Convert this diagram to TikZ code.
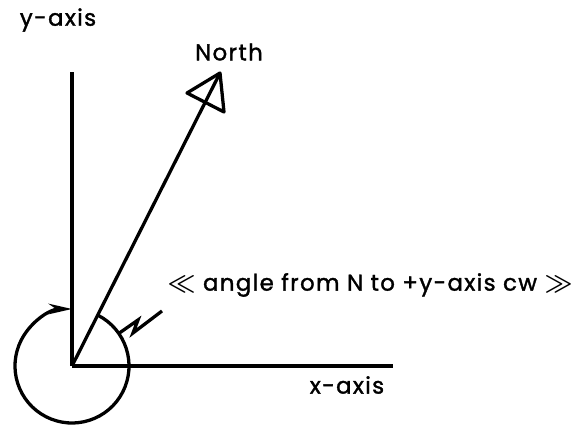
\documentclass[tikz,border=0pt]{standalone}
\usepackage{amsmath}
\usepackage{bm}
\usepackage{fontspec}
\setmainfont{Poppins}[LetterSpace=6, FakeBold=1.5]
\usetikzlibrary{arrows.meta}

\begin{document}
\begin{tikzpicture}[x=0.03cm, y=-0.03cm, line width=2.8pt,
    lbl/.style={font=\fontsize{19.5}{22}\selectfont, inner sep=0pt}]
            \useasboundingbox (0,0) rectangle (579,425);

            % Points
            \coordinate (O) at (72,366);
            \coordinate (Ytop) at (72,72);
            \coordinate (Xend) at (393,366);
            \coordinate (Tip) at (220,73);
            \coordinate (BL) at (187,93);
            \coordinate (BR) at (224,112);

            % Axes
            \draw (O) -- (Ytop);
            \draw (O) -- (Xend);
            \node[lbl] (ylab) at (58,20) {y-axis};
            \node[lbl] (xlab) at (347,385) {x-axis};

            % North direction
            \draw (O) -- (Tip);
            \draw[line join=round] (Tip) -- (BL) -- (BR) -- cycle;
            \node[lbl] (nlab) at (229,52) {North};

            % Angle circle cw
            \draw[-{Stealth[length=20pt, width=9pt]}] (O) ++(-63:57) arc[start angle=-63, end angle=270, radius=57];

            % Zigzag pointer and label
            \coordinate (Z) at (118,334);
            \draw[line join=miter] (Z) -- (138,320) -- (133,333) -- (162,311);
            \node[lbl, anchor=west] (alab) at (166,285) {$\bm{\ll}$ angle from N to +y-axis cw $\bm{\gg}$};
        \end{tikzpicture}
\end{document}
